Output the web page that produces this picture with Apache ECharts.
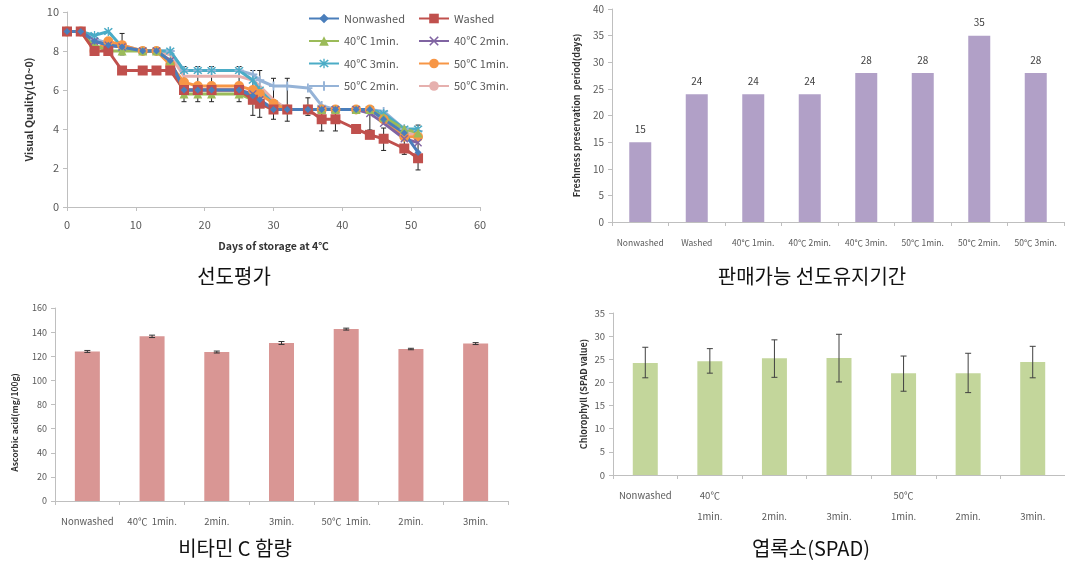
<!DOCTYPE html>
<html>
<head>
<meta charset="utf-8">
<script src="https://cdn.jsdelivr.net/npm/echarts@6/dist/echarts.min.js"></script>
<style>
  html, body { margin: 0; padding: 0; background: #fff; }
  #chart { width: 1065px; height: 563px; }
</style>
</head>
<body>
<div id="chart"></div>
<script>
// ---- Visual quality during storage at 4℃ ----
const storageDays = [0, 2, 4, 6, 8, 11, 13, 15, 17, 19, 21, 25, 27, 28, 30, 32, 35, 37, 39, 42, 44, 46, 49, 51];
const qNonwashed = [9, 9, 8.5, 8.3, 8.2, 8, 8, 7.5, 6.0, 6.0, 6.0, 6.0, 5.7, 5.5, 5.0, 5.0, 5.0, 5.0, 5.0, 5.0, 5.0, 4.5, 3.8, 2.8];
const qWashed    = [9, 9, 8.0, 8.0, 7.0, 7, 7, 7.0, 6.0, 6.0, 6.0, 6.0, 5.5, 5.3, 5.0, 5.0, 5.0, 4.5, 4.5, 4.0, 3.7, 3.5, 3.0, 2.5];
const q40_1      = [9, 9, 8.3, 8.0, 8.0, 8, 8, 7.5, 5.8, 5.8, 5.8, 5.8, 5.5, 5.3, 5.0, 5.0, 5.0, 5.0, 5.0, 5.0, 5.0, 4.6, 4.0, 3.8];
const q40_2      = [9, 9, 8.5, 8.3, 8.2, 8, 8, 7.5, 6.0, 6.0, 6.0, 6.0, 5.8, 5.5, 5.0, 5.0, 5.0, 5.0, 5.0, 5.0, 4.8, 4.3, 3.5, 3.3];
const q40_3      = [9, 9, 8.8, 9.0, 8.2, 8, 8, 8.0, 7.0, 7.0, 7.0, 7.0, 6.5, 6.0, 5.3, 5.0, 5.0, 5.0, 5.0, 5.0, 5.0, 4.8, 4.0, 4.0];
const q50_1      = [9, 9, 8.0, 8.5, 8.3, 8, 8, 7.3, 6.4, 6.2, 6.2, 6.2, 6.0, 5.8, 5.3, 5.0, 5.0, 5.0, 5.0, 5.0, 5.0, 4.5, 3.6, 3.6];
const q50_2      = [9, 9, 8.6, 8.4, 8.3, 8, 8, 8.0, 7.0, 7.0, 7.0, 7.0, 6.8, 6.5, 6.2, 6.2, 6.1, 5.2, 5.0, 5.0, 5.0, 4.9, 4.0, 3.9];
const q50_3      = [9, 9, 8.5, 8.4, 8.2, 8, 8, 7.8, 6.7, 6.7, 6.7, 6.7, 6.5, 6.2, 5.5, 5.0, 5.0, 5.0, 5.0, 5.0, 5.0, 4.8, 3.8, 3.7];
// error bars of the quality curves
const qErrDays = [4, 8, 17, 19, 21, 25, 27, 28, 30, 32, 35, 37, 39, 44, 46, 49, 51];
const qErrHigh = [8.8, 8.9, 7.2, 7.2, 7.2, 7.2, 7.0, 7.0, 6.6, 6.6, 5.6, 5.0, 5.0, 5.1, 4.05, 4.1, 4.2];
const qErrLow  = [8.3, 7.8, 5.4, 5.4, 5.4, 5.4, 4.7, 4.6, 4.5, 4.4, 4.7, 3.9, 3.9, 3.95, 2.9, 2.7, 1.9];

// ---- Marketable freshness period ----
const freshLabels = ['Nonwashed', 'Washed', '40℃ 1min.', '40℃ 2min.', '40℃ 3min.', '50℃ 1min.', '50℃ 2min.', '50℃ 3min.'];
const freshDays = [15, 24, 24, 24, 28, 28, 35, 28];

// ---- Vitamin C content ----
const vitLabels = ['Nonwashed', '40℃  1min.', '2min.', '3min.', '50℃  1min.', '2min.', '3min.'];
const vitC    = [124, 136.5, 123.5, 131, 142.5, 126, 130.5];
const vitCErr = [0.8, 1.0, 0.8, 1.2, 0.8, 0.6, 0.8];

// ---- Chlorophyll (SPAD) ----
const spadLabels = ['Nonwashed', '40℃\n1min.', '\n2min.', '\n3min.', '50℃\n1min.', '\n2min.', '\n3min.'];
const spad     = [24.2, 24.6, 25.2, 25.3, 22.0, 22.0, 24.4];
const spadHigh = [27.6, 27.3, 29.2, 30.4, 25.7, 26.3, 27.8];
const spadLow  = [21.0, 22.0, 21.1, 20.1, 18.1, 17.8, 21.0];

// panel captions
const captions = ['선도평가', '판매가능 선도유지기간', '비타민 C 함량', '엽록소(SPAD)'];

const FONT = '"Noto Sans CJK KR", "Noto Sans", sans-serif';
const AXIS_GRAY = '#BFBFBF';
const LABEL_GRAY = '#595959';

const SYM_PLUS = 'path://M4,0h2v10h-2z M0,4h10v2h-10z';
const SYM_X = 'path://M0,1.2L1.2,0L10,8.8L8.8,10Z M8.8,0L10,1.2L1.2,10L0,8.8Z';
const SYM_STAR = 'path://M0,1.2L1.2,0L10,8.8L8.8,10Z M8.8,0L10,1.2L1.2,10L0,8.8Z M4.3,-1h1.4v12h-1.4z';

function pairs(xs, ys) { return xs.map((x, i) => [x, ys[i]]); }

function qualitySeries(name, values, color, symbol, size) {
  return {
    name, type: 'line', xAxisIndex: 0, yAxisIndex: 0,
    data: pairs(storageDays, values),
    symbol: symbol, symbolSize: size, showSymbol: symbol !== 'none',
    lineStyle: { color, width: 3 },
    itemStyle: { color },
    z: 3
  };
}

// vertical error bar with caps, in data coordinates
function errorBarRenderer(capHalf, color) {
  return function (params, api) {
    const x = api.value(0);
    const hi = api.coord([x, api.value(2)]);
    const lo = api.coord([x, api.value(1)]);
    const style = { stroke: color, lineWidth: 1 };
    return {
      type: 'group',
      children: [
        { type: 'line', shape: { x1: hi[0], y1: hi[1], x2: lo[0], y2: lo[1] }, style },
        { type: 'line', shape: { x1: hi[0] - capHalf, y1: hi[1], x2: hi[0] + capHalf, y2: hi[1] }, style },
        { type: 'line', shape: { x1: lo[0] - capHalf, y1: lo[1], x2: lo[0] + capHalf, y2: lo[1] }, style }
      ]
    };
  };
}

function valueAxisBase(gridIndex, min, max, interval, fontSize) {
  return {
    type: 'value', gridIndex, min, max, interval,
    axisLine: { show: true, lineStyle: { color: AXIS_GRAY } },
    axisTick: { show: true, length: 4, lineStyle: { color: AXIS_GRAY } },
    splitLine: { show: false },
    axisLabel: { color: LABEL_GRAY, fontSize, fontFamily: FONT, margin: 8 }
  };
}

function categoryAxisBase(gridIndex, labels, fontSize) {
  return {
    type: 'category', gridIndex,
    data: labels.map((_, i) => String(i)),
    boundaryGap: true,
    axisLine: { show: true, lineStyle: { color: AXIS_GRAY } },
    axisTick: { show: true, length: 4, alignWithLabel: false, lineStyle: { color: AXIS_GRAY } },
    axisLabel: {
      interval: 0, color: LABEL_GRAY, fontSize, fontFamily: FONT, margin: 10, lineHeight: 21,
      formatter: (v, i) => labels[i]
    }
  };
}

const yTitleStyle = { color: '#333', fontWeight: 'bold', fontFamily: FONT };

function caption(text, x, y) {
  return {
    type: 'text', x, y,
    style: { text, fill: '#111', font: '20px ' + FONT, align: 'center', verticalAlign: 'middle' }
  };
}

const option = {
  backgroundColor: '#fff',
  animation: false,
  textStyle: { fontFamily: FONT },
  grid: [
    { left: 67, top: 12, width: 413, height: 195 },
    { left: 612, top: 9, width: 452, height: 213 },
    { left: 55, top: 308, width: 453, height: 193 },
    { left: 613, top: 313, width: 452, height: 162 }
  ],
  xAxis: [
    Object.assign(valueAxisBase(0, 0, 60, 10, 11), {
      name: 'Days of storage at 4℃', nameLocation: 'middle', nameGap: 34,
      nameTextStyle: Object.assign({ fontSize: 10.5 }, yTitleStyle),
      axisLabel: { color: LABEL_GRAY, fontSize: 11, fontFamily: FONT, margin: 12 }
    }),
    categoryAxisBase(1, freshLabels, 8.5),
    categoryAxisBase(2, vitLabels, 9.5),
    categoryAxisBase(3, spadLabels, 9.5)
  ],
  yAxis: [
    Object.assign(valueAxisBase(0, 0, 10, 2, 11), {
      name: 'Visual Quality(10~0)', nameLocation: 'middle', nameGap: 33,
      nameTextStyle: Object.assign({ fontSize: 10.5 }, yTitleStyle)
    }),
    Object.assign(valueAxisBase(1, 0, 40, 5, 10), {
      name: 'Freshness preservation  period(days)', nameLocation: 'middle', nameGap: 31,
      nameTextStyle: Object.assign({ fontSize: 9 }, yTitleStyle)
    }),
    Object.assign(valueAxisBase(2, 0, 160, 20, 9), {
      name: 'Ascorbic acid(mg/100g)', nameLocation: 'middle', nameGap: 36,
      nameTextStyle: Object.assign({ fontSize: 8.5, padding: [0, 36, 0, 0] }, yTitleStyle)
    }),
    Object.assign(valueAxisBase(3, 0, 35, 5, 9.5), {
      name: 'Chlorophyll (SPAD value)', nameLocation: 'middle', nameGap: 25,
      nameTextStyle: Object.assign({ fontSize: 9 }, yTitleStyle)
    })
  ],
  legend: [
    {
      left: 303, top: 8, orient: 'vertical', itemGap: 11.5, itemWidth: 30, itemHeight: 12,
      textStyle: { color: LABEL_GRAY, fontSize: 11, fontFamily: FONT },
      data: ['Nonwashed', '40℃ 1min.', '40℃ 3min.', '50℃ 2min.']
    },
    {
      left: 413, top: 8, orient: 'vertical', itemGap: 11.5, itemWidth: 30, itemHeight: 12,
      textStyle: { color: LABEL_GRAY, fontSize: 11, fontFamily: FONT },
      data: ['Washed', '40℃ 2min.', '50℃ 1min.', '50℃ 3min.']
    }
  ],
  series: [
    {
      type: 'custom', name: 'quality error', xAxisIndex: 0, yAxisIndex: 0, z: 2,
      renderItem: errorBarRenderer(2.5, '#222'),
      encode: { x: 0, y: [1, 2] },
      data: qErrDays.map((d, i) => [d, qErrLow[i], qErrHigh[i]])
    },
    qualitySeries('50℃ 3min.', q50_3, '#E6B0AE', 'none', 0),
    qualitySeries('50℃ 2min.', q50_2, '#95B3D7', SYM_PLUS, 9),
    qualitySeries('40℃ 3min.', q40_3, '#4BACC6', SYM_STAR, 9),
    qualitySeries('50℃ 1min.', q50_1, '#F79646', 'circle', 10),
    qualitySeries('40℃ 2min.', q40_2, '#8064A2', SYM_X, 8),
    qualitySeries('40℃ 1min.', q40_1, '#9BBB59', 'triangle', 9),
    qualitySeries('Washed', qWashed, '#C0504D', 'rect', 10),
    qualitySeries('Nonwashed', qNonwashed, '#4A7EBB', 'diamond', 7),

    {
      type: 'bar', xAxisIndex: 1, yAxisIndex: 1, barWidth: 22,
      itemStyle: { color: '#B1A0C7' },
      label: { show: true, position: 'top', distance: 8, color: '#404040', fontSize: 10, fontFamily: FONT },
      data: freshDays
    },

    {
      type: 'bar', xAxisIndex: 2, yAxisIndex: 2, barWidth: 25,
      itemStyle: { color: '#D99694' },
      data: vitC
    },
    {
      type: 'custom', xAxisIndex: 2, yAxisIndex: 2, z: 3,
      renderItem: errorBarRenderer(3, '#333'),
      encode: { x: 0, y: [1, 2] },
      data: vitC.map((v, i) => [i, v - vitCErr[i], v + vitCErr[i]])
    },

    {
      type: 'bar', xAxisIndex: 3, yAxisIndex: 3, barWidth: 25,
      itemStyle: { color: '#C3D69B' },
      data: spad
    },
    {
      type: 'custom', xAxisIndex: 3, yAxisIndex: 3, z: 3,
      renderItem: errorBarRenderer(3, '#404040'),
      encode: { x: 0, y: [1, 2] },
      data: spad.map((v, i) => [i, spadLow[i], spadHigh[i]])
    }
  ],
  graphic: [
    caption(captions[0], 234, 276),
    caption(captions[1], 812, 276),
    caption(captions[2], 235, 548),
    caption(captions[3], 811, 548)
  ]
};

const chart = echarts.init(document.getElementById('chart'), null, { renderer: 'canvas' });
chart.setOption(option);
</script>
</body>
</html>
